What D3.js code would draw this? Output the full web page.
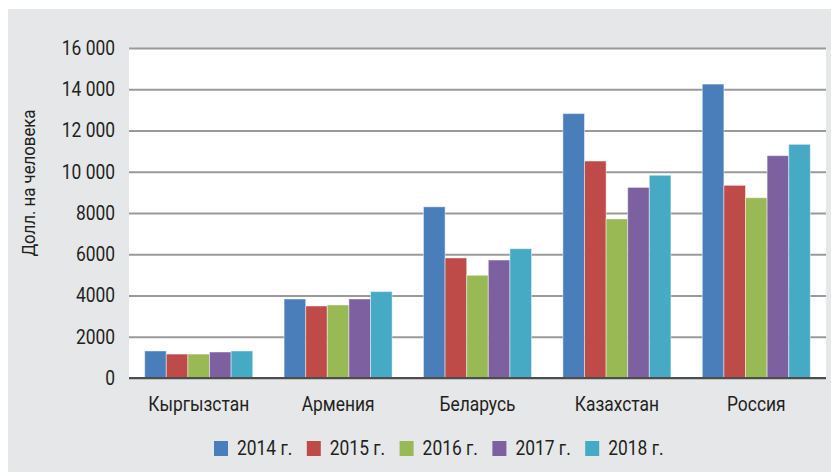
<!DOCTYPE html>
<html>
    <head>
        <meta charset="utf-8">
        <script src="https://cdn.jsdelivr.net/npm/d3@7"></script>
        <style>
            body { margin: 0; background: #ffffff; }
            text { font-family: "Roboto", "Liberation Sans", sans-serif; fill: #231f20; }
        </style>
    </head>
    <body>
        <svg id="fig" width="831" height="472"></svg>
        <script>
            // data
            const countries = ["Кыргызстан", "Армения", "Беларусь", "Казахстан", "Россия"];
            const years = ["2014 г.", "2015 г.", "2016 г.", "2017 г.", "2018 г."];
            const v2014 = [1310, 3830, 8300, 12820, 14250];
            const v2015 = [1160, 3490, 5820, 10520, 9340];
            const v2016 = [1160, 3540, 4980, 7710, 8740];
            const v2017 = [1260, 3830, 5720, 9240, 10780];
            const v2018 = [1310, 4190, 6270, 9830, 11330];
            const yTicks = [0, 2000, 4000, 6000, 8000, 10000, 12000, 14000, 16000];
            const colors = ["#4a7ebb", "#be4b48", "#98b954", "#7d60a0", "#46aac5"];

            const series = [v2014, v2015, v2016, v2017, v2018];

            var svg = d3.select("#fig");
            const margin = { left: 129, top: 48, right: 5, bottom: 94 };
            const width = +svg.attr("width");
            const height = +svg.attr("height");

            // grey panel
            svg.append("rect")
               .attr("x", 8).attr("y", 9)
               .attr("width", width - 8).attr("height", height - 9)
               .attr("fill", "#e6e7e9");

            // plot area
            svg.append("rect")
               .attr("x", margin.left).attr("y", margin.top)
               .attr("width", width - margin.left - margin.right)
               .attr("height", height - margin.top - margin.bottom)
               .attr("fill", "#ffffff");

            const x0 = d3.scaleBand().domain(countries)
                         .range([margin.left, width - margin.right])
                         .paddingInner(0.225).paddingOuter(0.1125);
            const x1 = d3.scaleBand().domain(years).range([0, x0.bandwidth()]);
            const y = d3.scaleLinear().domain([0, 16000])
                        .range([height - margin.bottom, margin.top]);

            // grid lines
            const yAx = d3.axisLeft(y).tickValues(yTicks)
                          .tickSize(-(width - margin.left - margin.right))
                          .tickPadding(14)
                          .tickFormat(d => d >= 10000 ? d3.format(",")(d).replace(",", " ") : d);
            var yg = svg.append("g")
                        .attr("transform", `translate(${margin.left},0)`)
                        .call(yAx);
            yg.select(".domain").remove();
            yg.selectAll(".tick line")
              .attr("stroke", "#9a9a9a").attr("stroke-width", 2);
            yg.selectAll(".tick text")
              .attr("font-size", 20).style("fill", "#231f20");

            // bars
            var groups = svg.selectAll(".grp")
                            .data(countries)
                            .enter().append("g")
                            .attr("transform", d => `translate(${x0(d)},0)`);
            groups.selectAll("rect")
                  .data((c, i) => series.map((s, k) => ({ year: years[k], value: s[i], k: k })))
                  .enter().append("rect")
                  .attr("x", d => x1(d.year))
                  .attr("y", d => y(d.value))
                  .attr("width", x1.bandwidth())
                  .attr("height", d => y(0) - y(d.value))
                  .attr("fill", d => colors[d.k])
                  .attr("stroke", "#ffffff").attr("stroke-opacity", 0.45).attr("stroke-width", 1);

            // zero axis line
            svg.append("line")
               .attr("x1", margin.left).attr("x2", width - margin.right)
               .attr("y1", y(0)).attr("y2", y(0))
               .attr("stroke", "#4d4d4d").attr("stroke-width", 2);

            // x labels
            const xAx = d3.axisBottom(x0).tickSize(0).tickPadding(19);
            var xg = svg.append("g")
                        .attr("transform", `translate(0,${y(0)})`)
                        .call(xAx);
            xg.select(".domain").remove();
            xg.selectAll("text").attr("font-size", 20).style("fill", "#231f20");

            // legend
            var lg = svg.selectAll(".lg")
                        .data(years)
                        .enter().append("g")
                        .attr("transform", (d, i) => `translate(${214 + i * 92.8},441)`);
            lg.append("rect")
              .attr("width", 14).attr("height", 15)
              .attr("fill", (d, i) => colors[i]);
            lg.append("text")
              .attr("x", 23).attr("y", 14)
              .attr("font-size", 20)
              .text(d => d);

            // condensed look: squeeze all labels horizontally
            svg.selectAll("text").each(function() {
                const w = this.getComputedTextLength();
                d3.select(this).attr("textLength", w * 0.87)
                               .attr("lengthAdjust", "spacingAndGlyphs");
            });

            // y title
            svg.append("text")
               .attr("transform", "translate(35,183) rotate(-90)")
               .attr("text-anchor", "middle")
               .attr("font-size", 18)
               .attr("textLength", 147)
               .attr("lengthAdjust", "spacingAndGlyphs")
               .text("Долл. на человека");
        </script>
    </body>
</html>
